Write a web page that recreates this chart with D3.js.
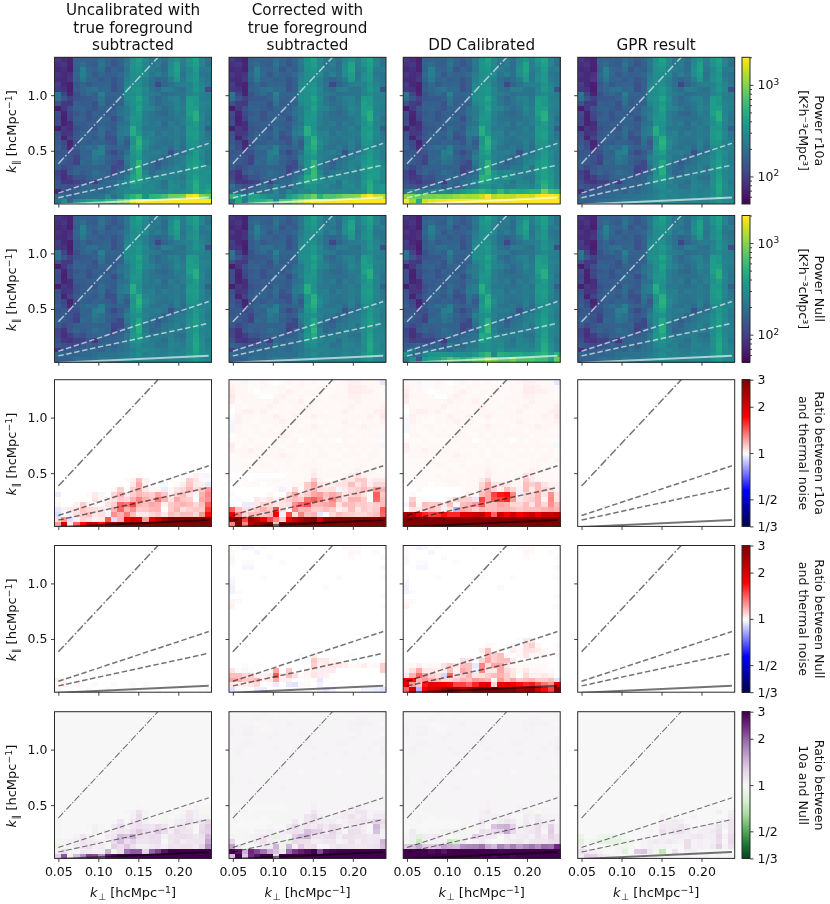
<!DOCTYPE html>
<html><head><meta charset="utf-8">
<script src="https://cdnjs.cloudflare.com/ajax/libs/d3/7.8.5/d3.min.js"></script>
<style>html,body{margin:0;padding:0;background:#fff}svg{display:block;font-family:"DejaVu Sans";filter:blur(0.4px)}</style>
</head><body><div id="chart"></div>
<script>
const columnTitles=[["Uncalibrated with","true foreground","subtracted"],["Corrected with","true foreground","subtracted"],["DD Calibrated"],["GPR result"]];
const rowLabels=[["Power r10a","[K²h⁻³cMpc³]"],["Power Null","[K²h⁻³cMpc³]"],["Ratio between r10a","and thermal noise"],["Ratio between Null","and thermal noise"],["Ratio between","10a and Null"]];
const xTicks=[0.05,0.10,0.15,0.20];
const yTicks=[0.5,1.0];
const ratioTicks=[3,2,1,1/2,1/3];
const ratioTickLabels=["3","2","1","1/2","1/3"];
const powerMajorTicks=[100,1000];
const powerMinorTicks=[60,70,80,90,200,300,400,500,600,700,800,900,2000];
const wedgeSlopes=[7.68,2.38,1.56,0.33];
const wedgeKPerp=[0.05,0.238];

// Thermal-noise power (GPR result) read cell by cell, top row first
const thermalPower=[
[90,80,72,156,162,156,150,188,162,138,162,212,315,400,288,222,228,198,258,318,240,348,420,258,204],
[82,90,72,162,181,150,144,212,156,131,156,219,336,380,276,210,234,180,282,408,228,318,396,264,192],
[75,82,70,150,250,169,156,188,131,156,144,206,315,342,258,228,210,180,306,420,222,270,372,222,228],
[88,78,85,169,238,175,138,169,150,150,175,225,299,323,288,204,240,198,300,384,204,288,348,210,198],
[80,78,90,156,219,162,162,144,156,131,156,238,305,285,240,186,162,180,228,360,216,306,360,228,204],
[98,75,70,138,169,138,156,162,162,125,156,269,305,314,234,192,110,162,198,228,240,252,324,252,216],
[94,85,68,144,162,188,200,169,175,125,150,300,315,361,276,204,180,234,228,204,192,264,348,276,120],
[219,106,72,125,156,175,150,250,162,162,162,294,305,342,252,228,216,180,192,204,204,252,288,252,228],
[206,131,100,131,138,138,156,212,150,150,175,300,326,428,288,204,168,204,240,252,204,372,360,240,228],
[131,94,90,150,144,150,125,200,144,156,156,269,315,361,270,216,180,198,222,252,216,396,348,264,246],
[68,90,125,156,162,144,131,162,162,144,188,225,299,408,270,252,210,180,210,276,228,384,396,258,228],
[119,72,112,138,150,125,156,150,138,156,206,231,315,361,240,210,180,168,198,240,222,402,504,252,222],
[112,70,105,150,156,125,144,175,162,119,175,238,346,352,234,204,198,192,186,216,228,348,516,270,204],
[119,72,81,138,144,150,156,156,150,144,188,206,336,323,240,210,228,180,228,210,234,312,384,252,222],
[69,90,82,125,138,144,131,181,156,138,212,238,494,314,216,222,204,186,210,240,204,360,360,258,150],
[125,88,90,131,156,162,150,188,131,150,225,250,483,342,240,252,198,228,210,228,222,366,396,276,204],
[131,72,106,144,162,156,138,175,119,125,206,169,336,494,264,240,216,204,222,228,210,348,384,264,210],
[138,112,72,125,150,144,162,156,144,125,188,138,326,532,300,234,204,198,204,246,198,336,348,246,234],
[156,119,78,144,169,188,175,238,162,150,169,156,368,485,270,210,198,222,180,234,180,294,324,264,252],
[131,138,119,125,162,156,238,256,144,112,144,200,336,408,240,228,240,210,126,198,192,276,360,288,228],
[138,144,131,106,156,169,225,200,162,138,150,238,305,323,252,222,210,168,192,216,228,288,372,270,222],
[156,138,125,102,175,162,206,188,150,131,112,219,299,446,240,192,144,180,204,228,240,312,396,294,228],
[144,112,131,150,150,156,162,156,162,106,112,188,305,475,210,180,156,204,216,252,210,318,396,288,240],
[106,85,138,162,144,156,188,175,156,100,138,175,326,494,228,162,180,210,228,240,216,300,378,264,246],
[112,82,98,131,125,150,162,169,150,144,162,219,357,418,252,210,228,222,246,204,192,288,408,270,240],
[125,90,88,100,102,131,90,150,162,162,175,225,315,323,270,228,222,192,258,228,210,312,432,282,222],
[138,125,112,119,138,162,144,169,175,150,188,212,273,295,240,246,204,210,264,252,228,300,456,300,240],
[82,131,144,150,156,162,175,156,188,175,200,212,242,276,282,258,240,228,252,240,252,288,444,288,252],
[169,156,162,162,169,175,188,194,200,206,212,225,252,304,252,264,246,240,270,258,258,318,408,300,264],
[156,150,162,188,194,188,212,238,225,212,238,250,252,285,270,276,258,252,276,276,264,300,360,294,270]];

// Ratios in hundredths. "Upper" rows start at the top of a panel, "Lower" rows end at its bottom; the rest are 100.
const upperCalibrated=[
[102,102,98,99,101,102,101,100,101,102,101,102,101,102,101,101,101,101,102,103,103,102,102,102,95],
[103,102,102,101,101,102,101,101,102,101,102,102,101,101,102,102,101,102,102,104,104,103,102,102,102],
[104,102,102,101,100,99,101,101,102,103,102,101,102,102,102,101,101,102,102,104,104,103,103,102,101],
[105,102,102,102,101,100,100,102,103,102,101,102,102,101,102,101,102,102,102,103,103,102,102,102,101],
[104,101,102,102,102,102,102,103,102,102,102,103,101,102,102,101,102,102,102,102,103,102,102,102,102],
[101,102,101,102,102,102,103,102,102,101,102,102,103,102,101,102,102,101,102,103,102,102,102,102,103],
[100,102,103,103,102,103,102,101,102,102,102,101,102,102,102,101,102,102,103,102,101,102,102,103,104],
[99,103,102,102,101,102,102,103,102,101,103,102,102,103,102,102,102,102,102,102,102,102,103,102,105],
[98,103,102,101,101,102,102,102,103,102,102,102,101,102,101,102,101,102,103,102,101,102,102,102,103],
[98,102,101,102,102,101,101,102,101,102,102,101,102,103,102,102,102,101,102,102,102,103,102,102,102],
[98,102,101,101,102,101,102,101,102,102,101,102,102,102,102,101,102,102,102,101,102,102,102,101,101],
[100,102,102,101,101,102,102,102,103,102,101,101,102,101,102,102,102,102,102,102,101,102,102,102,102],
[101,101,101,102,101,101,101,101,102,101,102,100,101,102,101,102,101,100,102,101,102,102,101,101,99],
[104,101,102,101,102,102,101,102,101,102,102,102,101,102,102,101,102,102,102,102,102,102,102,102,98],
[103,102,102,103,102,101,102,102,102,101,101,101,102,101,102,101,101,102,101,102,101,102,101,102,99],
[101,102,102,102,102,102,102,102,103,102,102,101,102,101,102,102,101,101,102,102,102,101,102,102,101],
[101,101,101,101,102,101,101,102,102,102,101,101,101,102,101,101,102,102,101,101,102,102,102,101,102],
[101,101,102,101,101,102,102,101,101,102,101,102,102,102,102,101,101,101,102,101,102,102,101,102,101],
[101,101,101,101,101,101,101,102,101,101,102,102,102,103,102,101,102,102,101,102,103,102,102,101,101]];
const upperNull=[
[100,101,97,98,100,99,100,100,100,100,100,101,100,100,100,100,100,100,101,101,101,100,100,100,99],
[101,100,100,100,98,100,100,100,100,100,100,100,100,100,100,100,100,100,100,102,101,100,100,101,100],
[102,100,100,100,100,100,99,100,100,100,100,100,100,100,100,100,100,100,100,101,100,100,100,100,101],
[102,100,99,99,100,100,100,100,101,100,100,100,100,100,100,100,100,100,100,100,100,100,100,100,100],
[100,100,98,98,100,100,100,100,100,100,100,100,100,100,100,100,100,100,100,100,100,100,100,100,102],
[100,100,100,100,100,100,100,100,100,100,100,100,100,100,100,100,100,100,100,100,100,100,100,100,100],
[99,100,100,100,100,101,100,100,100,100,100,100,99,100,100,100,100,99,100,100,100,100,100,100,101],
[98,100,100,100,100,100,100,100,100,100,100,100,100,100,100,100,100,100,100,100,100,100,100,100,100],
[97,100,100,100,100,100,100,100,100,100,100,100,100,100,100,99,100,100,100,100,100,100,100,100,100],
[97,101,100,100,100,100,100,100,100,100,100,100,100,100,100,100,100,100,100,100,100,100,100,100,100],
[100,100,100,100,100,100,100,100,100,100,100,100,100,100,100,100,100,100,100,100,100,100,100,100,99],
[102,101,100,100,100,100,100,100,100,100,100,100,100,100,100,100,100,100,100,100,100,100,100,100,100],
[103,100,100,100,100,100,100,100,100,100,100,100,100,100,100,100,100,100,100,100,100,100,100,100,99]];

const lowerR10aUncal=[
[100,100,100,100,100,100,100,100,100,100,100,100,100,101,100,100,100,100,100,100,100,101,103,102,98],
[100,100,100,100,100,100,100,100,100,100,100,101,103,115,103,100,100,100,101,100,101,111,106,99,99],
[100,100,100,100,100,100,100,100,100,100,100,100,105,121,103,100,100,98,100,101,104,113,105,103,95],
[101,100,100,100,100,100,100,100,100,102,111,100,111,118,105,102,102,96,102,106,109,117,107,113,124],
[96,100,100,100,100,101,105,98,100,109,118,105,111,117,113,111,121,113,103,111,115,107,98,118,130],
[101,100,100,100,100,100,106,102,104,107,111,109,118,130,118,113,133,118,106,121,113,111,100,121,127],
[102,100,100,103,111,103,102,100,107,111,139,133,148,118,115,121,118,103,112,115,118,115,109,115,142],
[95,103,105,106,113,109,107,105,99,118,139,118,127,112,113,117,118,100,112,118,107,111,113,112,154],
[93,101,97,107,111,115,105,107,98,127,118,133,115,105,105,109,112,105,115,112,115,115,109,124,170],
[107,124,94,103,109,107,103,105,145,93,118,190,210,205,124,200,225,270,330,350,360,560,500,330,310],
[125,210,105,140,170,220,215,170,255,280,340,400,650,800,800,700,750,800,750,800,800,850,900,850,800]];
const lowerR10aCorr=[
[100,100,100,100,100,100,100,100,100,101,101,101,102,105,102,102,102,102,102,104,107,103,102,102,102],
[101,101,101,100,101,101,101,102,101,101,101,101,102,112,103,101,101,102,107,105,112,112,103,105,105],
[100,100,101,101,101,100,101,101,101,101,102,102,112,121,106,104,104,106,107,115,106,112,103,109,109],
[100,100,100,100,100,100,100,101,97,101,109,101,111,118,107,106,107,98,105,109,111,115,111,124,118],
[99,100,100,100,100,100,102,100,100,109,121,107,111,121,124,115,121,115,105,109,112,106,100,142,112],
[100,101,100,100,105,103,106,102,107,111,115,112,136,142,130,112,130,115,106,118,118,112,100,139,115],
[101,100,96,96,105,109,109,105,106,107,127,139,145,118,118,121,124,106,115,115,111,112,109,111,115],
[142,115,107,107,112,118,112,148,107,100,130,118,118,112,112,115,112,103,106,115,106,112,109,112,142],
[190,130,109,115,115,112,115,175,97,148,106,130,115,118,95,100,109,115,112,111,109,109,112,115,139],
[320,280,150,260,240,190,150,130,112,185,220,260,280,300,210,280,290,340,360,380,400,520,560,480,500],
[130,300,130,240,260,290,300,115,320,350,420,500,650,800,800,750,800,850,800,850,850,900,950,850,800]];
const lowerR10aDd=[
[102,101,101,101,101,102,101,102,102,102,102,102,102,104,102,102,102,101,102,107,104,102,102,102,101],
[101,102,101,101,101,101,102,102,102,101,102,102,104,111,102,102,102,101,102,112,105,102,102,102,101],
[100,101,101,101,100,101,101,102,102,101,102,102,109,121,106,106,106,102,102,115,111,115,106,103,103],
[100,100,101,100,100,100,100,100,100,101,102,102,111,121,109,103,115,109,103,115,105,115,109,106,103],
[100,101,100,100,100,100,100,100,100,101,104,102,115,121,150,165,170,130,97,109,109,118,106,127,106],
[100,111,101,101,100,100,100,104,111,111,111,95,150,121,145,150,160,124,106,109,111,118,103,130,106],
[98,115,102,115,112,113,105,115,99,115,118,124,142,115,115,121,118,109,109,115,106,118,109,127,115],
[100,106,105,111,115,111,97,106,85,121,118,111,118,115,115,118,118,115,112,115,115,115,118,121,118],
[250,230,180,160,150,155,170,160,160,200,200,220,230,180,140,220,180,220,180,200,220,190,220,220,230],
[640,600,500,560,540,560,500,520,560,600,560,560,580,640,500,540,560,560,580,620,560,580,640,680,680],
[1400,800,300,800,900,1000,900,900,1000,1000,1000,1100,1200,1200,1000,1000,1100,1100,1000,1100,1100,1100,1300,1200,1200]];

const lowerNullUncal=[
[104,102,100,100,100,100,100,100,100,100,100,100,100,100,100,100,100,100,100,100,100,100,100,100,100],
[102,104,100,102,100,100,99,100,100,99,100,100,101,100,99,100,100,100,100,100,100,100,100,100,100],
[98,100,99,100,100,99,100,100,99,100,100,100,99,100,100,100,99,100,100,100,100,100,100,99,98]];
const lowerNullCorr=[
[100,100,100,100,100,100,100,100,100,100,100,99,99,105,100,100,100,100,100,99,100,100,100,100,100],
[100,100,100,100,100,100,100,100,100,100,100,99,99,113,105,105,102,101,100,100,100,100,100,100,101],
[100,100,99,100,101,100,100,100,100,100,100,100,100,111,103,105,106,105,104,101,102,104,101,102,111],
[106,101,98,101,100,100,102,121,100,112,100,100,102,105,104,104,104,100,100,100,100,100,100,100,111],
[115,115,109,111,103,103,105,142,103,115,107,101,102,106,104,103,100,100,100,100,100,100,100,100,100],
[121,118,112,113,118,103,105,121,103,103,100,100,101,101,95,99,100,100,100,100,100,100,100,100,100],
[105,104,103,105,109,100,99,96,100,95,94,101,101,100,97,100,99,100,100,99,100,100,100,100,100],
[94,99,99,100,97,96,100,100,100,99,100,100,100,100,97,95,97,100,100,100,100,97,97,96,94]];
const lowerNullDd=[
[100,100,100,100,100,100,100,100,100,100,100,100,100,100,100,100,100,100,99,105,105,100,100,100,100],
[100,100,100,100,100,100,100,100,100,100,100,100,100,102,101,100,100,99,99,107,111,102,100,100,99],
[100,100,100,100,100,100,100,100,100,100,100,100,104,115,101,102,100,104,102,107,106,104,102,100,100],
[100,100,100,100,100,100,100,100,100,100,100,100,101,118,111,115,102,100,102,106,102,102,103,100,101],
[100,100,100,100,100,100,100,100,100,107,105,100,109,121,111,115,115,104,100,100,100,100,100,100,100],
[101,102,104,101,102,102,107,112,105,115,115,95,130,107,121,121,105,102,101,102,101,101,101,100,100],
[102,107,121,105,105,103,103,115,103,121,115,97,130,105,105,121,109,105,102,105,102,102,101,101,100],
[105,118,139,121,111,107,92,139,106,111,118,106,107,111,115,118,112,106,100,109,103,103,105,103,100],
[195,170,118,125,118,115,109,109,112,118,115,124,121,118,100,124,112,121,112,115,118,112,112,115,94],
[190,125,112,165,190,190,185,175,150,150,140,160,190,195,110,185,190,185,170,160,165,150,135,125,195],
[140,210,85,190,210,220,260,300,260,240,250,300,320,400,350,290,300,380,260,260,280,210,170,150,320]];
const lowerGprRatio=[
[100,100,100,100,100,100,100,100,100,100,100,100,100,100,100,100,100,100,100,100,100,100,106,100,106],
[100,100,100,100,100,100,100,100,100,100,100,100,100,103,100,100,100,100,103,100,100,100,100,100,109],
[100,100,100,100,100,100,100,100,100,100,100,100,100,106,106,108,106,100,100,100,100,100,103,103,112],
[100,100,100,100,100,100,100,100,100,100,100,100,100,109,108,109,115,106,100,100,106,106,115,103,112],
[100,100,100,100,100,100,100,100,100,100,100,103,100,115,108,115,115,108,103,106,106,109,118,100,112],
[92,100,100,94,92,92,94,97,100,100,100,103,100,106,103,108,108,106,109,112,106,106,122,103,118],
[85,97,94,91,88,88,88,94,94,100,103,106,109,106,109,106,103,118,103,106,103,106,118,100,121],
[106,100,100,100,100,97,94,94,97,100,103,106,103,103,97,100,100,118,103,106,103,109,127,103,115],
[115,112,106,103,100,100,103,85,100,130,135,110,95,72,100,115,100,106,106,100,100,100,100,100,100],
[108,130,127,115,108,103,100,100,102,100,103,100,102,100,103,100,100,103,100,100,104,100,102,100,103]];

const NROWS=30,NCOLS=25;
const xDomain=[0.0452,0.2415],yDomain=[0.021,1.341];
const panelLeft=[54.5,229,403.2,577.7],panelWidth=157;
const rowTop=[57.3,215.5,379.7,545.5,711.7],panelHeight=146.7;

function ratioGrid(lower,upper){
  const g=[];
  for(let r=0;r<NROWS;r++){
    const li=r-(NROWS-lower.length);
    if(li>=0) g.push(lower[li].map(v=>v/100));
    else if(upper&&r<upper.length) g.push(upper[r].map(v=>v/100));
    else g.push(new Array(NCOLS).fill(1));
  }
  return g;
}
const gridsR10a=[ratioGrid(lowerR10aUncal),ratioGrid(lowerR10aCorr,upperCalibrated),ratioGrid(lowerR10aDd,upperCalibrated),ratioGrid([])];
const gridsNull=[ratioGrid(lowerNullUncal),ratioGrid(lowerNullCorr,upperNull),ratioGrid(lowerNullDd,upperNull),ratioGrid([])];
const combine=(a,b,f)=>a.map((row,r)=>row.map((v,c)=>f(v,b[r][c])));
const gridsPowerR10a=gridsR10a.map(g=>combine(g,thermalPower,(a,b)=>a*b));
const gridsPowerNull=gridsNull.map(g=>combine(g,thermalPower,(a,b)=>a*b));
const gridsCompare=[0,1,2].map(i=>combine(gridsR10a[i],gridsNull[i],(a,b)=>a/b)).concat([ratioGrid(lowerGprRatio)]);
const rowGrids=[gridsPowerR10a,gridsPowerNull,gridsR10a,gridsNull,gridsCompare];

const seismic=d3.piecewise(d3.interpolateRgb,["#00004d","#0000ff","#ffffff","#ff0000","#800000"]);
const prgnR=d3.piecewise(d3.interpolateRgb,["#00441b","#1b7837","#5aae61","#a6dba0","#d9f0d3","#f7f7f7","#e7d4e8","#c2a5cf","#9970ab","#762a83","#40004b"]);
const powerColor=d3.scaleSequentialLog(d3.interpolateViridis).domain([50,2000]).clamp(true);
const seismicColor=d3.scaleSequentialLog(seismic).domain([1/3,3]).clamp(true);
const prgnColor=d3.scaleSequentialLog(prgnR).domain([1/3,3]).clamp(true);
const rowColor=[powerColor,powerColor,seismicColor,seismicColor,prgnColor];

const svg=d3.select("#chart").append("svg").attr("width",830).attr("height",904);
const ink="#2a2a2a";
const FS=12.5;
const LABEL=13;

function kLabel(sel,sub){
  sel.append("tspan").attr("font-style","italic").text("k");
  sel.append("tspan").attr("font-size",LABEL*0.72).attr("dy",2.5).attr("dx",0.5).text(sub);
  sel.append("tspan").attr("dy",-2.5).text("\u00a0[hcMpc");
  sel.append("tspan").attr("font-size",LABEL*0.72).attr("dy",-4.5).text("\u22121");
  sel.append("tspan").attr("dy",4.5).text("]");
}
function styleAxis(g){
  g.selectAll(".domain").remove();
  g.selectAll("line").attr("stroke",ink).attr("stroke-width",0.9);
  g.selectAll("text").attr("font-family","DejaVu Sans").attr("font-size",FS).attr("fill","#111");
}

rowTop.forEach((top,ri)=>{
  panelLeft.forEach((left,ci)=>{
    const x=d3.scaleLinear().domain(xDomain).range([left,left+panelWidth]);
    const y=d3.scaleLinear().domain(yDomain).range([top+panelHeight,top]);
    const xEdge=d3.scaleLinear().domain([0,NCOLS]).range(xDomain);
    const yEdge=d3.scaleLinear().domain([NROWS,0]).range(yDomain);
    const p=svg.append("g");
    const id=`clip${ri}${ci}`;
    svg.append("clipPath").attr("id",id).append("rect").attr("x",left).attr("y",top).attr("width",panelWidth).attr("height",panelHeight);
    const cells=[];
    rowGrids[ri][ci].forEach((row,r)=>row.forEach((v,c)=>cells.push({r,c,v})));
    p.append("g").attr("shape-rendering","crispEdges").selectAll("rect").data(cells).join("rect")
      .attr("x",d=>x(xEdge(d.c))).attr("width",d=>x(xEdge(d.c+1))-x(xEdge(d.c))+0.4)
      .attr("y",d=>y(yEdge(d.r))).attr("height",d=>y(yEdge(d.r+1))-y(yEdge(d.r))+0.4)
      .attr("fill",d=>rowColor[ri](d.v));

    const onPower=ri<2;
    const stroke=onPower?"#ffffff":"#000000";
    const opacity=onPower?0.62:0.55;
    const lw=ri===4?1.05:1.5;
    const dashes=[ri===4?"7,1.8,1.2,1.8":"8,2.2,1.6,2.2","5.5,2.6","5.5,2.6",null];
    const widths=[lw,lw,lw,2];
    const lineGen=d3.line().x(d=>x(d[0])).y(d=>y(d[1]));
    const wedge=p.append("g").attr("clip-path",`url(#${id})`);
    wedgeSlopes.forEach((s,i)=>{
      wedge.append("path").attr("d",lineGen(wedgeKPerp.map(k=>[k,s*k])))
        .attr("fill","none").attr("stroke",stroke).attr("stroke-opacity",opacity)
        .attr("stroke-width",widths[i]).attr("stroke-dasharray",dashes[i]);
    });

    const gx=p.append("g").attr("transform",`translate(0,${top+panelHeight})`)
      .call(d3.axisBottom(x).tickValues(xTicks).tickSize(3.5).tickPadding(5).tickFormat(ri===4?d3.format(".2f"):""));
    styleAxis(gx);
    const gy=p.append("g").attr("transform",`translate(${left},0)`)
      .call(d3.axisLeft(y).tickValues(yTicks).tickSize(3.5).tickPadding(3.5).tickFormat(ci===0?d3.format(".1f"):""));
    styleAxis(gy);
    p.append("rect").attr("x",left).attr("y",top).attr("width",panelWidth).attr("height",panelHeight)
      .attr("fill","none").attr("stroke",ink).attr("stroke-width",1);

    if(ci===0){
      const t=p.append("text").attr("transform",`translate(16,${top+panelHeight/2+1}) rotate(-90)`)
        .attr("text-anchor","middle").attr("font-size",LABEL).attr("fill","#111");
      kLabel(t,"\u2225");
    }
    if(ri===4){
      const t=p.append("text").attr("x",left+panelWidth/2).attr("y",top+panelHeight+39)
        .attr("text-anchor","middle").attr("font-size",LABEL).attr("fill","#111");
      kLabel(t,"\u22a5");
    }
    if(ri===0){
      const lines=columnTitles[ci];
      lines.forEach((s,i)=>{
        svg.append("text").attr("x",left+panelWidth/2).attr("y",50-(lines.length-1-i)*17.5)
          .attr("text-anchor","middle").attr("font-size",15.2).attr("fill","#111").text(s);
      });
    }
  });

  // colour bar
  const cbLeft=742,cbW=8;
  const isPower=ri<2;
  const cb=svg.append("g");
  const scale=(isPower?d3.scaleLog().domain([50,2000]):d3.scaleLog().domain([1/3,3])).range([top+panelHeight,top]);
  const steps=d3.range(0,panelHeight,1);
  cb.append("g").attr("shape-rendering","crispEdges").selectAll("rect").data(steps).join("rect")
    .attr("x",cbLeft).attr("width",cbW).attr("y",d=>top+panelHeight-d-1).attr("height",1.4)
    .attr("fill",d=>rowColor[ri](scale.invert(top+panelHeight-d-0.5)));
  if(isPower){
    const minor=cb.append("g").attr("transform",`translate(${cbLeft+cbW},0)`)
      .call(d3.axisRight(scale).tickValues(powerMinorTicks).tickSize(2).tickFormat(""));
    styleAxis(minor);
    const major=cb.append("g").attr("transform",`translate(${cbLeft+cbW},0)`)
      .call(d3.axisRight(scale).tickValues(powerMajorTicks).tickSize(3.5).tickPadding(4).tickFormat(""));
    styleAxis(major);
    major.selectAll(".tick text").each(function(d){
      const t=d3.select(this);
      t.append("tspan").text("10");
      t.append("tspan").attr("font-size",FS*0.72).attr("dy",-4.5).text(Math.round(Math.log10(d)));
    });
  }else{
    const ax=cb.append("g").attr("transform",`translate(${cbLeft+cbW},0)`)
      .call(d3.axisRight(scale).tickValues(ratioTicks).tickSize(3.5).tickPadding(4)
        .tickFormat((d,i)=>ratioTickLabels[i]));
    styleAxis(ax);
  }
  cb.append("rect").attr("x",cbLeft).attr("y",top).attr("width",cbW).attr("height",panelHeight)
    .attr("fill","none").attr("stroke",ink).attr("stroke-width",1);

  const lab=rowLabels[ri];
  const cy=top+panelHeight/2;
  lab.forEach((s,i)=>{
    svg.append("text").attr("transform",`translate(${i===0?815:799},${cy}) rotate(90)`)
      .attr("text-anchor","middle").attr("font-size",12.6).attr("fill","#111").text(s);
  });
});
</script></body></html>
